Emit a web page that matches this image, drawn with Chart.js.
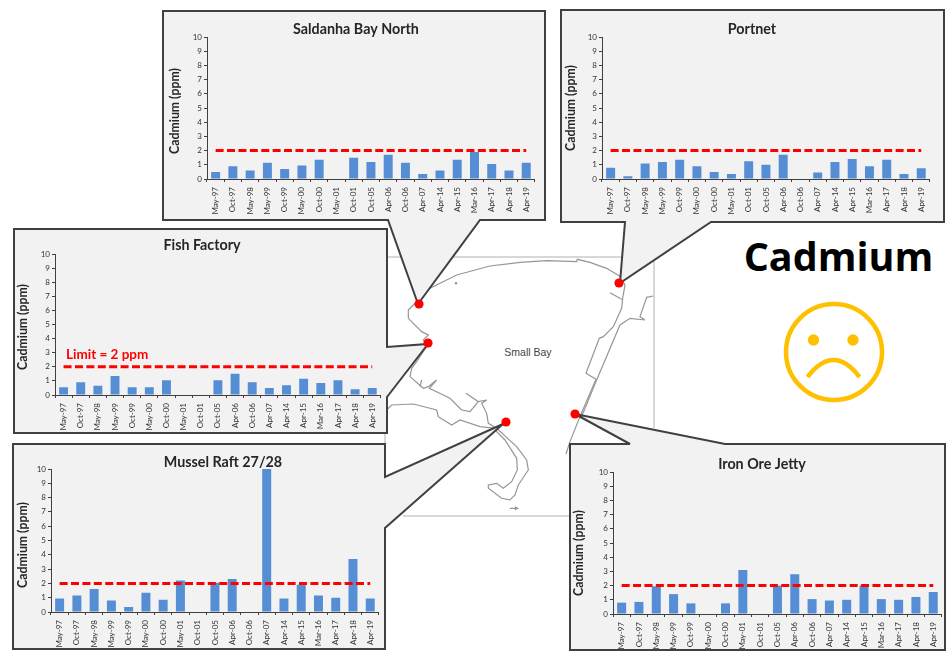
<!DOCTYPE html>
<html>
<head>
    <title>Cadmium</title>
    <script src="https://cdn.jsdelivr.net/npm/chart.js"></script>
    <style>
        body { margin: 0; background: #fff; }
        #page { position: relative; width: 949px; height: 657px; overflow: hidden; }
        #page svg { position: absolute; left: 0; top: 0; }
        #page canvas { position: absolute; }
    </style>
</head>
<body>
    <div id="page">
        <svg width="949" height="657" xmlns="http://www.w3.org/2000/svg">
            <!-- map frame -->
            <g fill="none" stroke="#b0b0b0" stroke-width="1">
                <path d="M383 257H654V428"/>
                <path d="M403 516H572"/>
                <path d="M385 433V444"/>
            </g>
            <!-- coastline, traced in zoomed units -->
            <g transform="translate(380 220) scale(0.3333)" fill="none" stroke="#969696" stroke-width="3.6">
                <polyline points="115,240 150,205 230,165 330,138 420,127 500,122 590,125 592,118 630,127 680,145 722,170 735,195 728,235 725,265 700,320 670,350 658,355 618,460 648,478 600,590 570,665 558,702"/>
                <polyline points="690,218 725,238"/>
                <polyline points="820,228 800,232 780,290 795,300 750,295 720,315 650,480 605,590"/>
                <polyline points="115,240 85,270 85,295 125,335 145,345 130,360 143,375 110,425 95,445 90,470 130,505 145,500 170,480 148,505 210,535 245,570 270,575 295,545 258,520 295,545 320,540 305,550 320,580 325,610 350,625 410,680 440,720 445,750 415,795 405,825 390,840 365,835 325,805 325,795 350,790 370,805 395,785 412,750 410,715 375,660 340,625"/>
                <polyline points="125,480 120,500"/>
                <polyline points="20,570 35,555 100,552 170,570 175,590 215,615 240,600 300,620 350,625"/>
                <polyline points="390,865 412,865 405,860 412,865 405,870"/>
                <circle cx="228" cy="190" r="2"/>
            </g>
            <text x="528" y="356" font-family="Liberation Sans" font-size="10.5" fill="#444" text-anchor="middle">Small Bay</text>
            <!-- callout boxes -->
            <g fill="#f2f2f2" stroke="#404040" stroke-width="2" stroke-linejoin="miter">
                <path d="M163 11H545V220H480L418 304L388 220H163Z"/>
                <path d="M561 10H944V222H711L620 283L625 222H561Z"/>
                <path d="M14 229H387V347L428 344L387 397V433H14Z"/>
                <path d="M13 444H385V477L503 424L385 528V649H13Z"/>
                <path d="M570 444H630L575 414L725 444H945V650H570Z"/>
            </g>
            <!-- sampling sites -->
            <g fill="#ff0000">
                <circle cx="419" cy="304" r="4.6"/>
                <circle cx="428" cy="343" r="4.6"/>
                <circle cx="619" cy="283" r="4.6"/>
                <circle cx="506" cy="422" r="4.6"/>
                <circle cx="575" cy="414" r="4.6"/>
            </g>
            <text x="838.5" y="271" font-family="Open Sans" font-weight="700" font-size="39.5" fill="#000" text-anchor="middle">Cadmium</text>
            <!-- sad face -->
            <g fill="none" stroke="#ffc000" stroke-width="4.5">
                <circle cx="834" cy="352" r="48"/>
                <path d="M807.5 377Q833.5 343 859.5 377"/>
            </g>
            <g fill="#ffc000">
                <circle cx="813.5" cy="340" r="5.7"/>
                <circle cx="853" cy="340" r="5.7"/>
            </g>
        </svg>
        <canvas id="saldanha"></canvas>
        <canvas id="portnet"></canvas>
        <canvas id="fish"></canvas>
        <canvas id="mussel"></canvas>
        <canvas id="iron"></canvas>
    </div>

    <script>
        // Sampling dates, same on every panel
        const dates = ['May-97', 'Oct-97', 'May-98', 'May-99', 'Oct-99', 'May-00', 'Oct-00', 'May-01', 'Oct-01', 'Oct-05',
            'Apr-06', 'Oct-06', 'Apr-07', 'Apr-14', 'Apr-15', 'Mar-16', 'Apr-17', 'Apr-18', 'Apr-19'];

        // Cadmium in ppm, null where nothing was sampled
        const saldanhaValues = [0.5, 0.9, 0.6, 1.15, 0.7, 0.95, 1.35, null, 1.5, 1.2, 1.7, 1.15, 0.35, 0.6, 1.35, 1.9, 1.05, 0.6, 1.15];
        const portnetValues = [0.8, 0.2, 1.1, 1.2, 1.35, 0.9, 0.5, 0.35, 1.25, 1.0, 1.7, null, 0.45, 1.2, 1.4, 0.9, 1.35, 0.35, 0.75];
        const fishValues = [0.55, 0.9, 0.65, 1.35, 0.55, 0.55, 1.05, null, null, 1.05, 1.5, 0.9, 0.5, 0.7, 1.15, 0.85, 1.05, 0.4, 0.5];
        const musselValues = [0.95, 1.15, 1.6, 0.8, 0.35, 1.35, 0.85, 2.2, null, 2.05, 2.3, null, 10, 0.95, 1.9, 1.15, 1.0, 3.7, 0.95];
        const ironValues = [0.8, 0.85, 1.95, 1.4, 0.75, null, 0.75, 3.1, null, 2.0, 2.8, 1.05, 0.95, 1.0, 2.0, 1.05, 1.0, 1.2, 1.55];

        const limitValues = [2, 2, 2, 2, 2, 2, 2, 2, 2, 2, 2, 2, 2, 2, 2, 2, 2, 2, 2];

        const FONT = 'Lato, "Open Sans", sans-serif';

        // Panel texts sit off centre in the original, so they are placed by hand here
        const panelText = {
            id: 'panelText',
            afterDatasetsDraw(chart, args, opts) {
                const ctx = chart.ctx;
                ctx.save();
                if (opts.note) {
                    ctx.font = 'bold 13.5px ' + FONT;
                    ctx.fillStyle = '#ff0000';
                    ctx.fillText(opts.note, chart.scales.x.left + 11, chart.scales.y.getPixelForValue(2) - 8);
                }
                ctx.fillStyle = '#262626';
                ctx.textAlign = 'center';
                ctx.textBaseline = 'middle';
                ctx.font = 'bold 14.3px ' + FONT;
                ctx.fillText(opts.title, opts.titleX, opts.titleY);
                ctx.font = 'bold 12.3px ' + FONT;
                ctx.translate(opts.axisX, opts.axisY);
                ctx.rotate(-Math.PI / 2);
                ctx.fillText('Cadmium (ppm)', 0, 0);
                ctx.restore();
            }
        };

        // left/right/top/bottom = plot area on the page, titleX/titleY = centre of title, axisX/axisY = centre of y axis label
        function drawPanel(id, title, values, p) {
            const canvas = document.getElementById(id);
            const cLeft = p.axisX - 8;
            const cTop = p.titleY - 10;
            const xAxisHeight = 37;
            const cWidth = p.right + 6 - cLeft;
            const cHeight = p.bottom + xAxisHeight - cTop;
            canvas.style.left = cLeft + 'px';
            canvas.style.top = cTop + 'px';
            canvas.width = cWidth;
            canvas.height = cHeight;
            canvas.style.width = cWidth + 'px';
            canvas.style.height = cHeight + 'px';

            new Chart(canvas.getContext('2d'), {
                type: 'bar',
                data: {
                    labels: dates,
                    datasets: [
                        {
                            type: 'line',
                            data: limitValues,
                            borderColor: '#ff0000',
                            borderWidth: 3,
                            borderDash: [8, 3.4],
                            pointRadius: 0,
                            order: 0
                        },
                        {
                            data: values,
                            backgroundColor: '#558ed5',
                            categoryPercentage: 1,
                            barPercentage: 0.52,
                            order: 1
                        }
                    ]
                },
                options: {
                    responsive: false,
                    animation: false,
                    layout: { padding: { left: 0, right: 6, top: p.top - cTop, bottom: 0 } },
                    plugins: {
                        legend: { display: false },
                        tooltip: { enabled: false },
                        panelText: {
                            title: title,
                            note: p.note,
                            titleX: p.titleX - cLeft,
                            titleY: p.titleY - cTop,
                            axisX: p.axisX - cLeft,
                            axisY: p.axisY - cTop
                        }
                    },
                    scales: {
                        x: {
                            afterFit: scale => { scale.height = xAxisHeight; },
                            grid: { drawOnChartArea: false, tickLength: 3, color: '#404040' },
                            border: { color: '#404040', width: 1 },
                            ticks: {
                                autoSkip: false,
                                minRotation: 90,
                                maxRotation: 90,
                                padding: 5,
                                color: '#333333',
                                font: { family: FONT, size: 8 }
                            }
                        },
                        y: {
                            min: 0,
                            max: 10,
                            afterFit: scale => { scale.width = p.left - cLeft; },
                            grid: { drawOnChartArea: false, tickLength: 3, color: '#404040' },
                            border: { color: '#404040', width: 1 },
                            ticks: {
                                stepSize: 1,
                                padding: 2,
                                color: '#333333',
                                font: { family: FONT, size: 8 }
                            }
                        }
                    }
                },
                plugins: [panelText]
            });
        }

        drawPanel('saldanha', 'Saldanha Bay North', saldanhaValues, { left: 207, right: 535, top: 37, bottom: 179, titleX: 356, titleY: 29, axisX: 175, axisY: 111 });
        drawPanel('portnet', 'Portnet', portnetValues, { left: 602, right: 930, top: 37, bottom: 179, titleX: 752, titleY: 29, axisX: 571, axisY: 108 });
        drawPanel('fish', 'Fish Factory', fishValues, { left: 55, right: 381, top: 254, bottom: 395, titleX: 202, titleY: 245, axisX: 23, axisY: 327, note: 'Limit = 2 ppm' });
        drawPanel('mussel', 'Mussel Raft 27/28', musselValues, { left: 51, right: 379, top: 469, bottom: 612, titleX: 223, titleY: 462, axisX: 23, axisY: 545 });
        drawPanel('iron', 'Iron Ore Jetty', ironValues, { left: 613, right: 942, top: 472, bottom: 614, titleX: 762, titleY: 464, axisX: 579, axisY: 553 });
    </script>
</body>
</html>
